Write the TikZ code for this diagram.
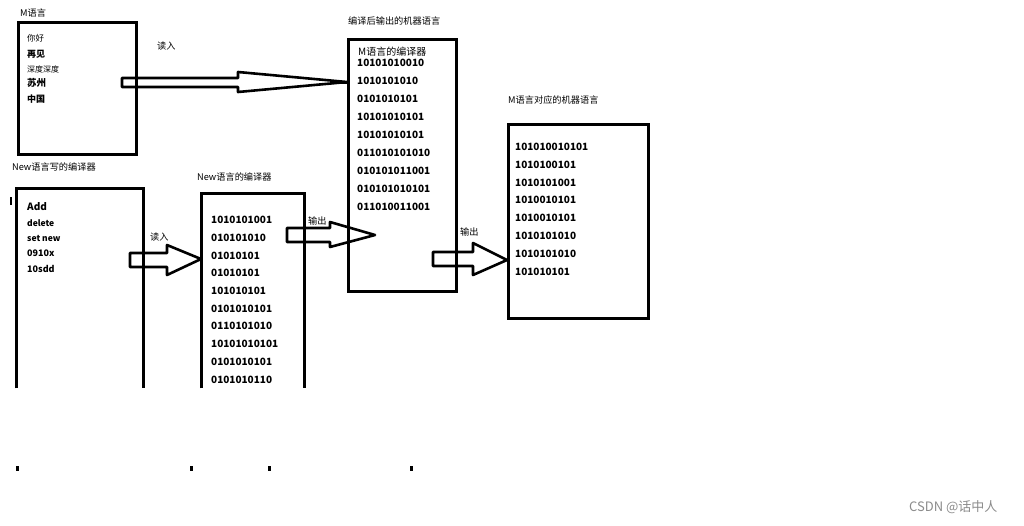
\documentclass[tikz,border=0pt]{standalone}
\usepackage{fontspec}
\setmainfont{Noto Sans CJK SC}
\begin{document}
\begin{tikzpicture}[x=1pt,y=-1pt]
\tikzset{
  box/.style={line width=3pt, draw=black},
  area/.style={inner sep=0pt, minimum width=#1, anchor=north west},
  arr/.style={line width=2.6pt, draw=black, line join=round},
  small/.style={anchor=west, inner sep=0pt, font=\fontsize{9}{10}\selectfont\bfseries},
  ttl/.style={anchor=west, inner sep=0pt, font=\fontsize{9.2}{10}\selectfont},
  num/.style={anchor=west, inner sep=0pt, font=\fontsize{10}{11}\selectfont\bfseries},
  dot/.style={fill=black, inner sep=0pt, minimum width=3pt, minimum height=5pt},
}
\useasboundingbox[fill=white] (0,0) rectangle (1024,525);

% ---------- boxes ----------
\node[box, area=118pt, minimum height=132pt] (mbox) at (17,21) {};
\node[area=127pt, minimum height=200pt] (newsrc) at (16,188) {};
\draw[box] (newsrc.south west) -- (newsrc.north west) -- (newsrc.north east) -- (newsrc.south east);
\node[area=103pt, minimum height=195pt] (newcomp) at (201,193) {};
\draw[box] (newcomp.south west) -- (newcomp.north west) -- (newcomp.north east) -- (newcomp.south east);
\node[box, area=108pt, minimum height=252pt] (mcomp) at (347,38) {};
\node[box, area=140pt, minimum height=194pt] (mmach) at (507,123) {};

% ---------- titles ----------
\node[ttl] (t1) at (20,13) {M语言};
\node[ttl] (t2) at (12,167) {New语言写的编译器};
\node[ttl] (t3) at (197,177) {New语言的编译器};
\node[ttl] (t4) at (348,21) {编译后输出的机器语言};
\node[ttl] (t5) at (508,100) {M语言对应的机器语言};

% ---------- M language box ----------
\node[small, font=\fontsize{8.5}{9}\selectfont] (m1) at (27,38) {你好};
\node[small] (m2) at (27,54) {再见};
\node[small, font=\fontsize{8}{9}\selectfont] (m3) at (27,69) {深度深度};
\node[small, font=\fontsize{9.5}{10}\selectfont\bfseries] (m4) at (27,83) {苏州};
\node[small] (m5) at (27,99) {中国};

% ---------- New source box ----------
\node[num] (n1) at (27,207) {Add};
\node[num, font=\fontsize{8.5}{9}\selectfont\bfseries] (n2) at (27,223) {delete};
\node[num, font=\fontsize{8.5}{9}\selectfont\bfseries] (n3) at (27,238) {set new};
\node[num, font=\fontsize{9}{9}\selectfont\bfseries] (n4) at (27,253) {0910x};
\node[num, font=\fontsize{9}{9}\selectfont\bfseries] (n5) at (27,269) {10sdd};

% ---------- New compiler box ----------
\node[num] (c1) at (211,220) {1010101001};
\node[num] (c2) at (211,238) {010101010};
\node[num] (c3) at (211,256) {01010101};
\node[num] (c4) at (211,273) {01010101};
\node[num] (c5) at (211,291) {101010101};
\node[num] (c6) at (211,309) {0101010101};
\node[num] (c7) at (211,326) {0110101010};
\node[num] (c8) at (211,344) {10101010101};
\node[num] (c9) at (211,362) {0101010101};
\node[num] (c10) at (211,380) {0101010110};

% ---------- M compiler box ----------
\node[ttl, font=\fontsize{10}{11}\selectfont] (mc0) at (358,52) {M语言的编译器};
\node[num] (mc1) at (357,63) {10101010010};
\node[num] (mc2) at (357,81) {1010101010};
\node[num] (mc3) at (357,99) {0101010101};
\node[num] (mc4) at (357,117) {10101010101};
\node[num] (mc5) at (357,135) {10101010101};
\node[num] (mc6) at (357,153) {011010101010};
\node[num] (mc7) at (357,171) {010101011001};
\node[num] (mc8) at (357,189) {010101010101};
\node[num] (mc9) at (357,207) {011010011001};

% ---------- M machine box ----------
\node[num] (r1) at (515,147) {101010010101};
\node[num] (r2) at (515,165) {1010100101};
\node[num] (r3) at (515,183) {1010101001};
\node[num] (r4) at (515,200) {1010010101};
\node[num] (r5) at (515,218) {1010010101};
\node[num] (r6) at (515,236) {1010101010};
\node[num] (r7) at (515,254) {1010101010};
\node[num] (r8) at (515,272) {101010101};

% ---------- arrow labels ----------
\node[ttl] (l1) at (157,46) {读入};
\node[ttl] (l2) at (150,237) {读入};
\node[ttl] (l3) at (308,221) {输出};
\node[ttl] (l4) at (460,232) {输出};

% ---------- hollow arrows ----------
\coordinate (a1s) at (122,82.5);
\coordinate (a1t) at (mcomp.west |- 0,82);
\draw[arr] (a1s) ++(0,-4.5) -- (238,78) -- (238,72) -- (a1t) -- (238,92) -- (238,87) -- (122,87) -- cycle;
\draw[line width=3pt] (330,82) -- (a1t);

\coordinate (a2t) at (newcomp.west |- 0,259);
\draw[arr] (130,253) -- (167,253) -- (167,245) -- (a2t) -- (167,275) -- (167,267) -- (130,267) -- cycle;

\coordinate (a3t) at (375,235);
\draw[arr] (287,228) -- (330,228) -- (330,222) -- (a3t) -- (330,247) -- (330,242) -- (287,242) -- cycle;

\coordinate (a4t) at (mmach.west |- 0,260);
\draw[arr] (433,252) -- (473,252) -- (473,243) -- (a4t) -- (473,275) -- (473,266) -- (433,266) -- cycle;

% ---------- stray marks ----------
\draw[line width=2pt] (11,197) -- (11,205);
\node[dot] (d1) at (17,468) {};
\node[dot] (d2) at (191,468) {};
\node[dot] (d3) at (269,468) {};
\node[dot] (d4) at (411,468) {};

% ---------- watermark ----------
\node[anchor=west, inner sep=0pt, text=black!45, font=\fontsize{13}{14}\selectfont] (wm) at (909,507) {CSDN @话中人};
\end{tikzpicture}
\end{document}
